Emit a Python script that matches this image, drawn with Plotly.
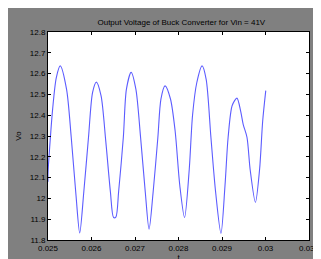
import plotly.graph_objects as go

t_ms = [0.02500, 0.02500, 0.02504, 0.025108, 0.02519, 0.025281, 0.025426, 0.025534, 0.025643, 0.025729,
        0.025823, 0.025931, 0.026025, 0.026112, 0.026219, 0.026327, 0.026435, 0.026508, 0.02656,
        0.026623, 0.026732, 0.026803, 0.026911, 0.02702, 0.027128, 0.027236, 0.027323,
        0.027417, 0.027526, 0.027597, 0.027691, 0.027814, 0.027922, 0.02803, 0.028139,
        0.028247, 0.028323, 0.02842, 0.028543, 0.028636, 0.028745, 0.028853, 0.028976,
        0.029069, 0.029141, 0.029236, 0.029344, 0.029431, 0.029487, 0.029574, 0.029647, 0.029768,
        0.029864, 0.029935, 0.030006]
vo = [12.08, 12.12, 12.25, 12.433, 12.58, 12.637, 12.525, 12.294, 12.016, 11.834,
      12.031, 12.294, 12.51, 12.559, 12.494, 12.278, 12.031, 11.908, 11.91,
      12.031, 12.294, 12.525, 12.606, 12.525, 12.294, 12.031, 11.852,
      12.031, 12.294, 12.479, 12.541, 12.479, 12.325, 12.062, 11.908,
      12.139, 12.4, 12.556, 12.637, 12.572, 12.294, 12.031, 11.832,
      12.062, 12.294, 12.448, 12.482, 12.417, 12.356, 12.294, 12.139, 11.981,
      12.139, 12.371, 12.518]

x_ticks = [0.025, 0.026, 0.027, 0.028, 0.029, 0.03, 0.031]
x_tick_text = ["0.025", "0.026", "0.027", "0.028", "0.029", "0.03", "0.031"]
y_ticks = [11.8, 11.9, 12.0, 12.1, 12.2, 12.3, 12.4, 12.5, 12.6, 12.7, 12.8]
y_tick_text = ["11.8", "11.9", "12", "12.1", "12.2", "12.3", "12.4", "12.5", "12.6", "12.7", "12.8"]

fig = go.Figure()
fig.add_trace(go.Scatter(x=t_ms, y=vo, mode="lines",
                         line=dict(color="#5c5cff", width=1.1, shape="spline", smoothing=0.8),
                         showlegend=False))

font = dict(family="Liberation Sans, Arial, sans-serif", size=8, color="#000000")
axis_common = dict(showgrid=False, zeroline=False, showline=True, linecolor="#000000",
                   linewidth=1, mirror="ticks", ticks="inside", ticklen=3, tickcolor="#000000",
                   tickfont=font, ticklabeloverflow="allow")

fig.update_layout(
    width=321, height=259,
    margin=dict(l=35, r=9, t=24, b=19),
    paper_bgcolor="#808080", plot_bgcolor="#ffffff",
    title=dict(text="Output Voltage of Buck Converter for Vin = 41V",
               font=dict(family="Liberation Sans, Arial, sans-serif", size=8, color="#000000"),
               x=0.54, xanchor="center", y=0.945, yanchor="middle"),
    xaxis=dict(range=[0.02499999, 0.03100001], tickvals=x_ticks, ticktext=x_tick_text,
               title=dict(text="t", font=font, standoff=0), **axis_common),
    yaxis=dict(range=[11.79999, 12.80001], tickvals=y_ticks, ticktext=y_tick_text,
               title=dict(text="Vo", font=font, standoff=7), **axis_common),
)

fig.write_html("out.html")
